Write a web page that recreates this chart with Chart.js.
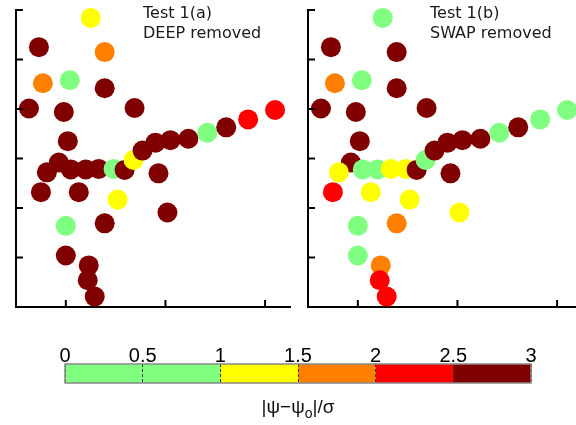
<!DOCTYPE html>
<html>
<head>
<meta charset="utf-8">
<script src="https://cdn.jsdelivr.net/npm/chart.js@4.4.0/dist/chart.umd.min.js"></script>
<style>
  html, body { margin: 0; padding: 0; background: #fff; overflow: hidden; width: 576px; height: 425px; }
  canvas { position: absolute; }
  #cbLabel {
    position: absolute; left: 198px; width: 200px; top: 396px;
    text-align: center; font-family: "Liberation Sans", Arial, sans-serif; font-size: 19px; color: #111;
  }
  #cbLabel sub { font-size: 14px; }
</style>
</head>
<body>
<canvas id="panelA" width="300" height="320" style="left:0;top:0"></canvas>
<canvas id="panelB" width="300" height="320" style="left:292px;top:0"></canvas>
<canvas id="cbar" width="576" height="70" style="left:0;top:330px"></canvas>
<div id="cbLabel">|ψ−ψ<sub>o</sub>|/σ</div>
<script>
// point positions (same in both tests)
const xs = [1.25, 0.73, 1.39, 0.77, 1.04, 1.39, 0.63, 0.98, 1.69, 1.02, 0.93, 0.81, 1.05, 1.20, 1.33, 1.48, 1.59, 1.93,
            1.68, 1.77, 1.90, 2.05, 2.23, 2.42, 2.61, 2.83, 3.10, 0.75, 1.13, 1.52, 2.02, 1.00, 1.39, 1.00, 1.23, 1.22, 1.29];
const ys = [5.84, 5.25, 5.15, 4.52, 4.58, 4.42, 4.01, 3.94, 4.02, 3.35, 2.92, 2.72, 2.78, 2.78, 2.79, 2.79, 2.77, 2.70,
            2.97, 3.16, 3.32, 3.37, 3.40, 3.52, 3.63, 3.79, 3.98, 2.32, 2.32, 2.17, 1.91, 1.64, 1.69, 1.04, 0.84, 0.54, 0.21];

// |psi - psi_o| / sigma for each point
const devDeep = [1.2, 2.8, 1.7, 1.8, 0.6, 2.9, 3.0, 2.7, 2.8, 2.6, 2.8, 2.9, 2.7, 2.8, 2.6, 0.8, 2.7, 2.9,
                 1.3, 2.7, 2.9, 2.8, 2.7, 0.9, 2.6, 2.3, 2.1, 2.8, 2.7, 1.4, 2.9, 0.7, 2.6, 2.8, 2.7, 2.9, 3.0];
const devSwap = [0.4, 2.8, 2.7, 1.6, 0.5, 2.6, 2.9, 2.7, 2.8, 2.9, 2.6, 1.2, 0.7, 0.8, 1.3, 1.1, 2.7, 2.8,
                 0.9, 2.7, 2.6, 2.8, 2.7, 0.8, 2.6, 0.6, 0.3, 2.2, 1.4, 1.2, 1.3, 0.6, 1.8, 0.5, 1.7, 2.3, 2.1];

const xTicks = [1, 2, 3];
const yTicks = [1, 2, 3, 4, 5, 6];

// colour scale
const cbarEdges = [0, 0.5, 1, 1.5, 2, 2.5, 3];
const cbarColors = ['#80ff80', '#80ff80', '#ffff00', '#ff8000', '#ff0000', '#800000'];
const cbarTickLabels = ['0', '0.5', '1', '1.5', '2', '2.5', '3'];

function colorFor(v) {
  for (let i = 0; i < cbarColors.length; i++) {
    if (v < cbarEdges[i + 1]) return cbarColors[i];
  }
  return cbarColors[cbarColors.length - 1];
}

// short ticks pointing into the plot
const inwardTicks = {
  id: 'inwardTicks',
  afterDraw(chart) {
    const {ctx, chartArea, scales: {x, y}} = chart;
    ctx.save();
    ctx.strokeStyle = '#000';
    ctx.lineWidth = 2;
    ctx.beginPath();
    xTicks.forEach(v => {
      const px = x.getPixelForValue(v);
      ctx.moveTo(px, chartArea.bottom);
      ctx.lineTo(px, chartArea.bottom - 7);
    });
    yTicks.forEach(v => {
      const py = y.getPixelForValue(v);
      ctx.moveTo(chartArea.left, py);
      ctx.lineTo(chartArea.left + 7, py);
    });
    ctx.stroke();
    ctx.restore();
  }
};

const panelText = {
  id: 'panelText',
  afterDraw(chart, args, opts) {
    const ctx = chart.ctx;
    ctx.save();
    ctx.font = '16px "DejaVu Sans"';
    ctx.fillStyle = '#1a1a1a';
    ctx.textBaseline = 'middle';
    opts.lines.forEach((t, i) => ctx.fillText(t, opts.x, opts.y + i * 20));
    ctx.restore();
  }
};

function makePanel(id, dev, lines, textX) {
  return new Chart(document.getElementById(id), {
    type: 'scatter',
    data: {
      datasets: [{
        data: xs.map((x, i) => ({x: x, y: ys[i]})),
        backgroundColor: dev.map(colorFor),
        borderWidth: 0,
        pointRadius: 10,
        pointHoverRadius: 10,
        clip: false
      }]
    },
    options: {
      responsive: false,
      animation: false,
      events: [],
      layout: { padding: { left: 16, right: 10, top: 8, bottom: 13 } },
      plugins: {
        legend: { display: false },
        tooltip: { enabled: false },
        panelText: { lines: lines, x: textX, y: 14 }
      },
      scales: {
        x: {
          type: 'linear', min: 0.5, max: 3.25,
          ticks: { display: false },
          grid: { display: false, drawTicks: false },
          border: { display: true, color: '#000', width: 2 }
        },
        y: {
          type: 'linear', min: 0, max: 6,
          ticks: { display: false },
          grid: { display: false, drawTicks: false },
          border: { display: true, color: '#000', width: 2 }
        }
      }
    },
    plugins: [inwardTicks, panelText]
  });
}

makePanel('panelA', devDeep, ['Test 1(a)', 'DEEP removed'], 143);
makePanel('panelB', devSwap, ['Test 1(b)', 'SWAP removed'], 138);

// colour bar
const cbarFrame = {
  id: 'cbarFrame',
  afterDraw(chart) {
    const {ctx, chartArea: a} = chart;
    ctx.save();
    ctx.strokeStyle = '#888';
    ctx.lineWidth = 1.5;
    ctx.strokeRect(a.left, a.top, a.right - a.left, a.bottom - a.top);
    ctx.restore();
  }
};

new Chart(document.getElementById('cbar'), {
  type: 'bar',
  data: {
    labels: ['scale'],
    datasets: cbarColors.map((c, i) => ({
      data: [[cbarEdges[i], cbarEdges[i + 1]]],
      backgroundColor: c,
      borderWidth: 0,
      barPercentage: 1,
      categoryPercentage: 1,
      grouped: false
    }))
  },
  options: {
    indexAxis: 'y',
    responsive: false,
    animation: false,
    events: [],
    layout: { padding: { left: 65, right: 45, top: 18, bottom: 17 } },
    plugins: { legend: { display: false }, tooltip: { enabled: false } },
    scales: {
      x: {
        type: 'linear', min: 0, max: 3, position: 'top',
        ticks: {
          stepSize: 0.5, autoSkip: false, maxRotation: 0, padding: -2, color: '#000',
          font: { family: '"Liberation Sans", Arial, sans-serif', size: 20, lineHeight: 1 },
          callback: (v, i) => cbarTickLabels[i]
        },
        grid: { color: '#333', lineWidth: 1, drawTicks: false, z: 1 },
        border: { display: false, dash: [3, 2] }
      },
      y: { display: false }
    }
  },
  plugins: [cbarFrame]
});
</script>
</body>
</html>
